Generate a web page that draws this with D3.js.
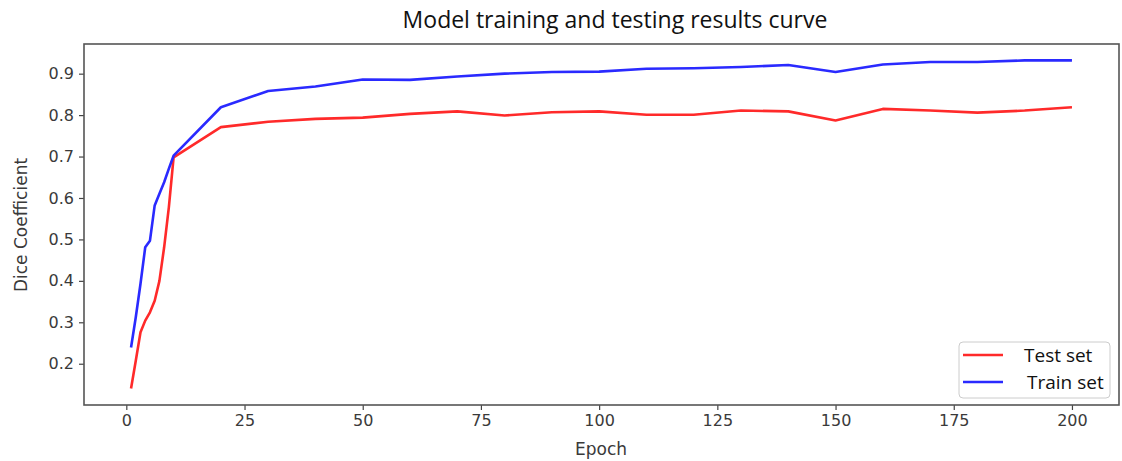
<!DOCTYPE html>
<html>
<head>
<meta charset="utf-8">
<script src="https://cdn.jsdelivr.net/npm/d3@7"></script>
<style>
  html, body { margin: 0; padding: 0; background: #fff; }
  svg { display: block; }
</style>
</head>
<body>
<svg id="chart" width="1122" height="461"></svg>
<script>
const epochs = [1,2,3,4,5,6,7,8,9,10,20,30,40,50,60,70,80,90,100,110,120,130,140,150,160,170,180,190,200];
const testSet = [0.140,0.207,0.276,0.304,0.324,0.352,0.400,0.481,0.578,0.698,0.771,0.784,0.791,0.794,0.803,0.809,0.799,0.807,0.809,0.801,0.801,0.811,0.809,0.787,0.815,0.811,0.806,0.811,0.819];
const trainSet = [0.239,0.312,0.393,0.481,0.497,0.582,0.610,0.638,0.671,0.702,0.819,0.858,0.869,0.886,0.885,0.893,0.900,0.904,0.905,0.912,0.913,0.916,0.921,0.904,0.922,0.928,0.928,0.932,0.932];
const xTicks = [0,25,50,75,100,125,150,175,200];
const yTicks = [0.2,0.3,0.4,0.5,0.6,0.7,0.8,0.9];
const seriesNames = ["Test set","Train set"];
const seriesColors = ["#ff2a2a","#2a2aff"];

const svg = d3.select("#chart");
const L = 84, R = 1119, T = 44, B = 405;

const allY = testSet.concat(trainSet);
const yMin = d3.min(allY), yMax = d3.max(allY), yr = yMax - yMin;
const xr = d3.max(epochs) - d3.min(epochs);
const x = d3.scaleLinear().domain([d3.min(epochs) - 0.05*xr, d3.max(epochs) + 0.05*xr]).range([L, R]);
const y = d3.scaleLinear().domain([yMin - 0.05*yr, yMax + 0.05*yr]).range([B, T]);

const font = "'DejaVu Sans', sans-serif";

// axes
const xAxis = svg.append("g").attr("transform", `translate(0,${B})`)
  .call(d3.axisBottom(x).tickValues(xTicks).tickFormat(d3.format("d")).tickSize(5).tickPadding(5));
const yAxis = svg.append("g").attr("transform", `translate(${L},0)`)
  .call(d3.axisLeft(y).tickValues(yTicks).tickFormat(d3.format(".1f")).tickSize(5).tickPadding(5));
[xAxis, yAxis].forEach(g => {
  g.select(".domain").remove();
  g.selectAll(".tick line").attr("stroke", "#444").attr("stroke-width", 1.2);
  g.selectAll(".tick text").attr("fill", "#3a3a3a").style("font-family", font).style("font-size", "16px");
});

// lines
const line = d3.line().x((d, i) => x(epochs[i])).y(d => y(d));
[testSet, trainSet].forEach((s, k) => {
  svg.append("path").datum(s).attr("d", line).attr("fill", "none")
    .attr("stroke", seriesColors[k]).attr("stroke-width", 2.6).attr("stroke-linejoin", "round");
});

// frame
svg.append("rect").attr("x", L).attr("y", T).attr("width", R - L).attr("height", B - T)
  .attr("fill", "none").attr("stroke", "#555").attr("stroke-width", 1.6);

// title and labels
svg.append("text").attr("x", 615).attr("y", 28).attr("text-anchor", "middle")
  .style("font-family", "'Open Sans', sans-serif").style("font-size", "23px").attr("fill", "#111")
  .text("Model training and testing results curve");
svg.append("text").attr("x", 601).attr("y", 455).attr("text-anchor", "middle")
  .style("font-family", font).style("font-size", "17px").attr("fill", "#3a3a3a").text("Epoch");
svg.append("text").attr("transform", "translate(27,225) rotate(-90)").attr("text-anchor", "middle")
  .style("font-family", font).style("font-size", "17px").attr("fill", "#3a3a3a").text("Dice Coefficient");

// legend
const lg = svg.append("g");
lg.append("rect").attr("x", 959).attr("y", 342).attr("width", 151).attr("height", 56).attr("rx", 4)
  .attr("fill", "#fff").attr("stroke", "#ccc").attr("stroke-width", 1);
seriesNames.forEach((n, k) => {
  const yy = 355 + k * 27;
  lg.append("line").attr("x1", 963).attr("x2", 1003).attr("y1", yy).attr("y2", yy)
    .attr("stroke", seriesColors[k]).attr("stroke-width", 2.6);
  lg.append("text").attr("x", 1024 + k * 3).attr("y", yy + 7)
    .style("font-family", "'Open Sans', sans-serif").style("font-size", "19px").attr("fill", "#111").text(n);
});
</script>
</body>
</html>
